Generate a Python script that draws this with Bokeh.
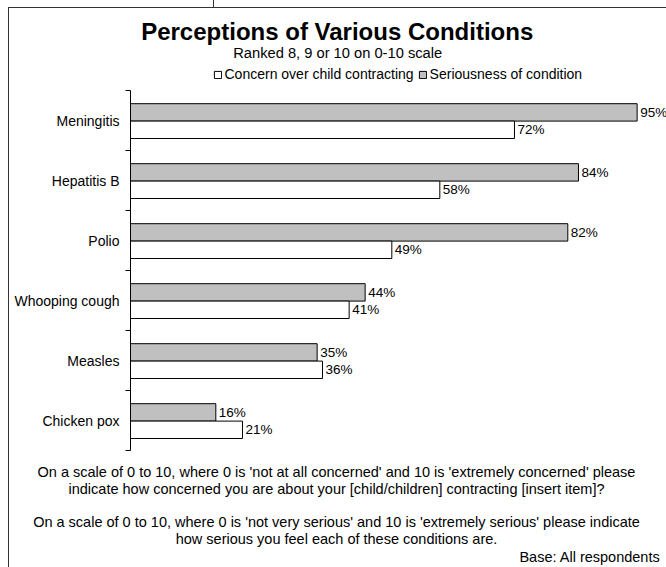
from bokeh.plotting import figure
from bokeh.models import (Range1d, FixedTicker, Label, LabelSet, Legend, LegendItem,
                          ColumnDataSource)
from bokeh.transform import dodge
from bokeh.core.properties import value
from bokeh.embed import file_html
from bokeh.resources import INLINE

# ---- data ----
conditions = ["Meningitis", "Hepatitis B", "Polio", "Whooping cough", "Measles", "Chicken pox"]
concern = [72, 58, 49, 41, 36, 21]          # Concern over child contracting (white)
seriousness = [95, 84, 82, 44, 35, 16]      # Seriousness of condition (grey)

title_text = "Perceptions of Various Conditions"
subtitle_text = "Ranked 8, 9 or 10 on 0-10 scale"
series_names = ["Concern over child contracting", "Seriousness of condition"]
notes = [
    "On a scale of 0 to 10, where 0 is 'not at all concerned' and 10 is 'extremely concerned' please",
    "indicate how concerned you are about your [child/children] contracting [insert item]?",
    "On a scale of 0 to 10, where 0 is 'not very serious' and 10 is 'extremely serious' please indicate",
    "how serious you feel each of these conditions are.",
]
base_text = "Base: All respondents"

FONT = "Liberation Sans"
W, H = 666, 567
n = len(conditions)
centers = [i + 0.5 for i in range(n)]
bounds = list(range(n + 1))

# layout: 0% at x=130 px, 5.333 px per %; category band 60 px, first band starts at y=90 px
PX_PER_PCT = 5.333
X0 = 130
PX_PER_CAT = 60
Y0 = 90

src = ColumnDataSource(dict(
    cond=conditions, pos=centers, concern=concern, seriousness=seriousness,
    c_lbl=[f"{v}%" for v in concern], s_lbl=[f"{v}%" for v in seriousness],
))

p = figure(width=W, height=H, output_backend="svg", toolbar_location=None,
           x_range=Range1d(-X0 / PX_PER_PCT, (W - X0) / PX_PER_PCT),
           y_range=Range1d((H - Y0) / PX_PER_CAT, -Y0 / PX_PER_CAT),
           x_axis_type=None, min_border=0)
p.outline_line_color = None
p.xgrid.grid_line_color = None
p.ygrid.grid_line_color = None
p.background_fill_color = None
p.border_fill_color = None
p.styles = {
    "background": ("linear-gradient(#333,#333) 8px 7px / 1px 560px no-repeat, "
                   "linear-gradient(#333,#333) 8px 7px / 658px 1px no-repeat, "
                   "linear-gradient(#333,#333) 213px 0px / 1px 7px no-repeat, white"),
}

ax = p.yaxis[0]
ax.fixed_location = 0
ax.bounds = (0, n)
ax.ticker = FixedTicker(ticks=centers, minor_ticks=bounds)
ax.major_label_overrides = {c: name for c, name in zip(centers, conditions)}
ax.major_tick_line_color = None
ax.major_tick_out = 0
ax.major_tick_in = 0
ax.minor_tick_out = 5
ax.minor_tick_in = 0
ax.minor_tick_line_color = "black"
ax.axis_line_color = "black"
ax.major_label_standoff = 6
ax.major_label_text_font = FONT
ax.major_label_text_font_size = "14px"
ax.major_label_text_color = "black"

r_gray = p.hbar(y=dodge("pos", -0.135), right="seriousness", left=0, height=0.29, source=src,
                fill_color="#c0c0c0", line_color="black", line_width=1)
r_white = p.hbar(y=dodge("pos", 0.155), right="concern", left=0, height=0.29, source=src,
                 fill_color="white", line_color="black", line_width=1)

for col, xcol, off in (("s_lbl", "seriousness", -0.135), ("c_lbl", "concern", 0.155)):
    p.add_layout(LabelSet(x=xcol, y=dodge("pos", off), text=col, source=src, x_offset=3,
                          text_baseline="middle", text_align="left", text_font=value(FONT),
                          text_font_size="13.5px", text_color="black"))

legend = Legend(items=[LegendItem(label=series_names[0], renderers=[r_white]),
                       LegendItem(label=series_names[1], renderers=[r_gray])],
                orientation="horizontal", location=(212.5, H - 82), glyph_width=9,
                glyph_height=9, label_standoff=3, spacing=4, padding=0, margin=0,
                border_line_color=None, background_fill_alpha=0, label_text_font=FONT,
                label_text_font_size="14px", label_text_color="black", label_height=9)
p.add_layout(legend)


def add_text(text, px, py, size, align="center", bold=False):
    # px, py: position in pixels from the top-left corner of the canvas (text middle)
    p.add_layout(Label(x=px, y=H - py, x_units="screen", y_units="screen", text=text,
                       text_font=FONT, text_font_size=size, text_align=align,
                       text_baseline="middle", text_color="black",
                       text_font_style="bold" if bold else "normal"))


add_text(title_text, 336.7, 31, "24px", bold=True)
add_text(subtitle_text, 337.2, 52.5, "14.7px")
for txt, py in zip(notes, [471, 488, 521, 538]):
    add_text(txt, 336, py, "14.5px")
add_text(base_text, 660, 556, "14.5px", align="right")

open("out.html", "w").write(file_html(p, INLINE))
